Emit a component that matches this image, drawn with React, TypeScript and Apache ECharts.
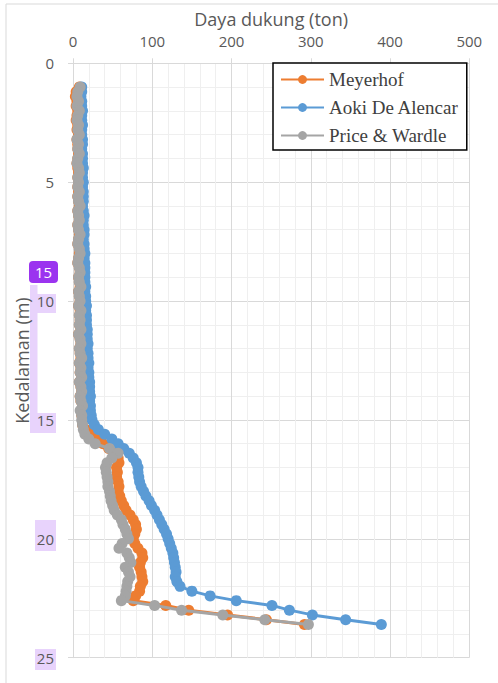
import React, { useEffect, useRef } from "react";
import * as echarts from "echarts";

const depths = [
  1.0, 1.2, 1.4, 1.6, 1.8, 2.0, 2.2, 2.4, 2.6, 2.8,
  3.0, 3.2, 3.4, 3.6, 3.8, 4.0, 4.2, 4.4, 4.6, 4.8,
  5.0, 5.2, 5.4, 5.6, 5.8, 6.0, 6.2, 6.4, 6.6, 6.8,
  7.0, 7.2, 7.4, 7.6, 7.8, 8.0, 8.2, 8.4, 8.6, 8.8,
  9.0, 9.2, 9.4, 9.6, 9.8, 10.0, 10.2, 10.4, 10.6, 10.8,
  11.0, 11.2, 11.4, 11.6, 11.8, 12.0, 12.2, 12.4, 12.6, 12.8,
  13.0, 13.2, 13.4, 13.6, 13.8, 14.0, 14.2, 14.4, 14.6, 14.8,
  15.0, 15.2, 15.4, 15.6, 15.8, 16.0, 16.2, 16.4, 16.6, 16.8,
  17.0, 17.2, 17.4, 17.6, 17.8, 18.0, 18.2, 18.4, 18.6, 18.8,
  19.0, 19.2, 19.4, 19.6, 19.8, 20.0, 20.2, 20.4, 20.6, 20.8,
  21.0, 21.2, 21.4, 21.6, 21.8, 22.0, 22.2, 22.4, 22.6, 22.8,
  23.0, 23.2, 23.4, 23.6,
];

const meyerhof = [
  8, 4, 3, 5, 4, 6, 5, 4, 6, 5,
  7, 5, 6, 6, 7, 6, 5, 6, 7, 6,
  7, 6, 7, 6, 7, 8, 6, 7, 8, 6,
  7, 8, 7, 6, 8, 8, 7, 6, 8, 9,
  7, 8, 9, 7, 8, 9, 7, 9, 8, 9,
  8, 10, 7, 9, 10, 8, 9, 10, 8, 10,
  9, 11, 8, 10, 11, 9, 10, 12, 10, 11,
  12, 12, 16, 24, 31, 38, 45, 51, 57, 58,
  55, 56, 55, 57, 58, 57, 59, 61, 64, 67,
  72, 76, 79, 80, 78, 76, 78, 82, 87, 88,
  85, 84, 86, 87, 88, 85, 84, 79, 76, 117,
  146, 195, 244, 292,
];

const aoki = [
  11, 11, 10, 11, 11, 12, 11, 11, 12, 11,
  11, 12, 12, 11, 12, 12, 12, 13, 12, 12,
  13, 12, 13, 13, 13, 12, 13, 14, 13, 13,
  14, 14, 13, 14, 14, 15, 14, 15, 15, 15,
  15, 15, 16, 15, 16, 16, 17, 16, 17, 17,
  17, 18, 18, 18, 19, 18, 19, 19, 20, 19,
  20, 20, 21, 21, 21, 22, 21, 22, 22, 23,
  24, 27, 32, 40, 49, 57, 64, 71, 76, 80,
  82, 82, 83, 84, 86, 89, 92, 96, 99, 103,
  106, 109, 112, 115, 118, 120, 122, 124, 126, 127,
  128, 129, 130, 129, 131, 135, 150, 173, 206, 251,
  273, 302, 344, 389,
];

const priceWardle = [
  9, 6, 5, 7, 5, 8, 6, 5, 7, 6,
  8, 5, 7, 6, 8, 6, 5, 7, 8, 6,
  7, 6, 8, 6, 7, 9, 6, 7, 8, 6,
  7, 9, 7, 6, 8, 9, 7, 6, 8, 9,
  7, 8, 10, 7, 8, 9, 7, 10, 8, 9,
  8, 10, 7, 9, 10, 8, 9, 11, 8, 10,
  9, 11, 8, 10, 11, 9, 10, 12, 9, 11,
  11, 12, 13, 15, 20, 28, 46, 57, 49, 43,
  41, 42, 43, 44, 44, 46, 47, 48, 50, 52,
  56, 61, 63, 66, 68, 70, 62, 58, 68, 71,
  73, 66, 70, 72, 69, 68, 67, 66, 61, 103,
  137, 189, 242, 297,
];

const seriesNames = ["Meyerhof", "Aoki De Alencar", "Price & Wardle"];
const seriesColors = ["#ED7D31", "#5B9BD5", "#A5A5A5"];
const seriesValues = [meyerhof, aoki, priceWardle];

const FONT = "'Open Sans', sans-serif";

export default function App() {
  const ref = useRef<HTMLDivElement>(null);

  useEffect(() => {
    if (!ref.current) return;
    const chart = echarts.init(ref.current, undefined, { renderer: "svg" });

    const lavender = "#e8d3fc";
    const option: any = {
      animation: false,
      backgroundColor: "#ffffff",
      grid: { left: 73, right: 28.7, top: 63.3, bottom: 25.3, containLabel: false },
      legend: {
        orient: "vertical",
        left: 273,
        top: 63,
        backgroundColor: "#ffffff",
        borderColor: "#000000",
        borderWidth: 1.5,
        borderRadius: 0,
        padding: [6, 8, 4, 7],
        itemWidth: 43,
        itemHeight: 11,
        itemGap: 7,
        textStyle: { fontFamily: "'Liberation Serif', 'Times New Roman', serif", fontSize: 19, color: "#404040", lineHeight: 21 },
        data: seriesNames,
      },
      xAxis: {
        type: "value",
        position: "top",
        min: 0,
        max: 500,
        interval: 100,
        name: "Daya dukung (ton)",
        nameLocation: "middle",
        nameGap: 33,
        nameTextStyle: { fontFamily: FONT, fontSize: 18, color: "#595959" },
        axisLine: { show: true, lineStyle: { color: "#d9d9d9", width: 1 } },
        axisTick: { show: true, length: 5, lineStyle: { color: "#d9d9d9" } },
        axisLabel: { margin: 15, fontFamily: FONT, fontSize: 15, color: "#595959" },
        splitLine: { show: true, lineStyle: { color: "#d9d9d9", width: 1 } },
        minorTick: { show: false, splitNumber: 5 },
        minorSplitLine: { show: true, lineStyle: { color: "#efefef", width: 1 } },
      },
      yAxis: {
        type: "value",
        inverse: true,
        min: 0,
        max: 25,
        interval: 5,
        name: "Kedalaman (m)",
        nameLocation: "middle",
        nameGap: 42,
        nameMoveOverlap: false,
        nameTextStyle: { fontFamily: FONT, fontSize: 18, color: "#595959" },
        axisLine: { show: true, lineStyle: { color: "#d9d9d9", width: 1 } },
        axisTick: { show: true, length: 5, lineStyle: { color: "#d9d9d9" } },
        axisLabel: { margin: 19, fontFamily: FONT, fontSize: 15, color: "#595959" },
        splitLine: { show: true, lineStyle: { color: "#d9d9d9", width: 1 } },
        minorTick: { show: false, splitNumber: 5 },
        minorSplitLine: { show: true, lineStyle: { color: "#efefef", width: 1 } },
      },
      graphic: [
        { type: "rect", z: -10, silent: true, shape: { x: 6, y: 4, width: 700, height: 900 }, style: { fill: "none", stroke: "#d9d9d9", lineWidth: 1 } },
        { type: "rect", z: -5, silent: true, shape: { x: 30, y: 285, width: 7.5, height: 148 }, style: { fill: lavender } },
        { type: "rect", z: -5, silent: true, shape: { x: 35, y: 294, width: 21, height: 19 }, style: { fill: lavender } },
        { type: "rect", z: -5, silent: true, shape: { x: 34, y: 413, width: 22, height: 20 }, style: { fill: lavender } },
        { type: "rect", z: -5, silent: true, shape: { x: 35, y: 520, width: 21, height: 31 }, style: { fill: lavender } },
        { type: "rect", z: -5, silent: true, shape: { x: 35, y: 649, width: 21, height: 21 }, style: { fill: lavender } },
        { type: "rect", z: 100, silent: true, shape: { x: 29, y: 261, width: 29, height: 22, r: 4 }, style: { fill: "#9b34ef" } },
        { type: "text", z: 101, silent: true, x: 43.5, y: 272, style: { text: "15", fill: "#ffffff", font: "15px 'Open Sans', sans-serif", align: "center", verticalAlign: "middle" } },
      ],
      series: seriesNames.map((name, k) => ({
        name,
        type: "line",
        data: depths.map((d, i) => [seriesValues[k][i], d]),
        color: seriesColors[k],
        symbol: "circle",
        symbolSize: 11,
        showSymbol: true,
        lineStyle: { width: 3, color: seriesColors[k] },
        itemStyle: { color: seriesColors[k] },
        z: 2 + k,
      })),
    };

    chart.setOption(option);
    return () => chart.dispose();
  }, []);

  return (
    <div
      ref={ref}
      style={{ position: "absolute", left: 0, top: 0, width: 498, height: 683 }}
    />
  );
}
